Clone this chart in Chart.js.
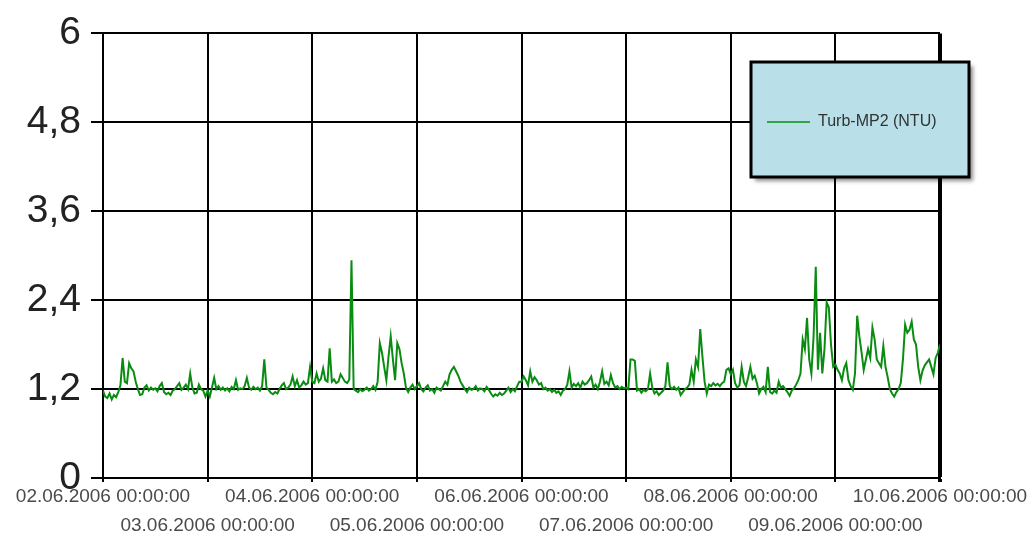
<!DOCTYPE html>
<html>
<head>
<meta charset="utf-8">
<title>Turb-MP2 (NTU)</title>
<script src="https://cdn.jsdelivr.net/npm/chart.js@4"></script>
<style>
  html, body { margin: 0; padding: 0; background: #fff; }
  #wrap { width: 1032px; height: 536px; position: relative; }
</style>
</head>
<body>
<div id="wrap"><canvas id="myChart"></canvas></div>
<script>
// Turbidity readings, one value every 30 minutes (48 per day)
const seriesLabel = 'Turb-MP2 (NTU)';
const startDay = 2; // 02.06.2006
const yTicks = [0, 1.2, 2.4, 3.6, 4.8, 6];

const day02 = [1.18,1.10,1.08,1.14,1.06,1.12,1.09,1.16, 1.25,1.62,1.30,1.28,1.55,1.48,1.44,1.30,
               1.20,1.12,1.13,1.22,1.25,1.18,1.22,1.19, 1.21,1.17,1.24,1.28,1.16,1.13,1.15,1.12,
               1.18,1.20,1.24,1.28,1.19,1.22,1.26,1.20, 1.41,1.22,1.14,1.15,1.26,1.20,1.18,1.10];
const day03 = [1.18,1.10,1.22,1.35,1.20,1.24,1.19,1.22, 1.18,1.21,1.17,1.23,1.20,1.32,1.19,1.21,
               1.20,1.24,1.35,1.22,1.19,1.23,1.20,1.22, 1.18,1.24,1.60,1.22,1.19,1.15,1.13,1.16,
               1.14,1.20,1.25,1.28,1.20,1.22,1.26,1.37, 1.24,1.32,1.22,1.25,1.30,1.26,1.28,1.50];
const day04 = [1.30,1.28,1.41,1.30,1.34,1.48,1.32,1.30, 1.75,1.30,1.33,1.28,1.30,1.40,1.35,1.30,
               1.28,1.33,2.94,1.20,1.18,1.16,1.20,1.17, 1.19,1.22,1.18,1.20,1.24,1.19,1.30,1.82,
               1.69,1.50,1.32,1.64,1.91,1.60,1.32,1.82, 1.74,1.55,1.41,1.22,1.16,1.22,1.26,1.20];
const day05 = [1.24,1.28,1.20,1.17,1.22,1.25,1.18,1.20, 1.15,1.22,1.20,1.18,1.24,1.30,1.26,1.40,
               1.46,1.50,1.44,1.38,1.30,1.25,1.20,1.16, 1.22,1.19,1.20,1.24,1.18,1.21,1.20,1.17,
               1.23,1.19,1.14,1.10,1.13,1.11,1.15,1.12, 1.14,1.18,1.22,1.16,1.20,1.17,1.24,1.30];
const day06 = [1.30,1.37,1.32,1.25,1.44,1.30,1.36,1.32, 1.26,1.28,1.20,1.22,1.18,1.20,1.16,1.19,
               1.15,1.17,1.12,1.18,1.20,1.26,1.44,1.22, 1.27,1.24,1.28,1.22,1.30,1.26,1.28,1.32,
               1.37,1.22,1.26,1.20,1.30,1.44,1.27,1.30, 1.25,1.39,1.28,1.22,1.24,1.20,1.23,1.21];
const day07 = [1.22,1.20,1.60,1.60,1.58,1.18,1.20,1.15, 1.19,1.17,1.20,1.41,1.22,1.14,1.17,1.12,
               1.15,1.18,1.24,1.56,1.24,1.20,1.23,1.19, 1.22,1.12,1.16,1.20,1.22,1.26,1.46,1.30,
               1.60,1.50,2.01,1.64,1.30,1.14,1.26,1.24, 1.28,1.25,1.27,1.24,1.28,1.30,1.46,1.48];
const day08 = [1.40,1.46,1.28,1.22,1.25,1.50,1.30,1.24, 1.36,1.50,1.34,1.38,1.28,1.14,1.20,1.23,
               1.16,1.50,1.16,1.14,1.18,1.15,1.30,1.22, 1.24,1.20,1.16,1.11,1.18,1.21,1.26,1.32,
               1.41,1.87,1.74,2.16,1.60,1.41,1.91,2.85, 1.46,1.96,1.41,1.74,2.37,2.30,1.80,1.50];
const day09 = [1.53,1.46,1.41,1.32,1.48,1.55,1.32,1.24, 1.19,1.41,2.19,1.91,1.70,1.46,1.60,1.74,
               1.62,2.03,1.87,1.60,1.55,1.50,1.78,1.50, 1.36,1.20,1.14,1.10,1.16,1.20,1.28,1.60,
               2.07,1.96,2.00,2.11,1.87,1.80,1.50,1.32, 1.45,1.52,1.56,1.60,1.50,1.40,1.62,1.69];
const day10 = [1.80]; // 10.06.2006 00:00:00

const turbValues = [].concat(day02, day03, day04, day05, day06, day07, day08, day09, day10);
const hours = turbValues.map((v, i) => i * 0.5);

function dayLabel(h) {
    var d = startDay + Math.round(h / 24);
    return (d < 10 ? '0' + d : d) + '.06.2006 00:00:00';
}

function commaNum(v) {
    return String(Math.round(v * 10) / 10).replace('.', ',');
}

// draws the framed light blue legend box inside the plot
const boxLegend = {
    id: 'boxLegend',
    afterDraw(chart) {
        const ctx = chart.ctx;
        const ds = chart.data.datasets[0];
        const x = 751, y = 62, w = 218, h = 115;
        ctx.save();
        ctx.shadowColor = 'rgba(0,0,0,0.45)';
        ctx.shadowBlur = 4;
        ctx.shadowOffsetX = 4;
        ctx.shadowOffsetY = 4;
        ctx.fillStyle = '#b9dfe9';
        ctx.fillRect(x, y, w, h);
        ctx.restore();

        ctx.save();
        ctx.lineWidth = 3;
        ctx.strokeStyle = '#000';
        ctx.strokeRect(x, y, w, h);

        ctx.strokeStyle = ds.borderColor;
        ctx.lineWidth = 1.5;
        ctx.beginPath();
        ctx.moveTo(767, 122);
        ctx.lineTo(810, 122);
        ctx.stroke();

        ctx.fillStyle = '#333';
        ctx.font = '16px "Liberation Sans", Arial, sans-serif';
        ctx.textBaseline = 'middle';
        ctx.fillText(ds.label, 818, 122);
        ctx.restore();
    }
};

var ctx = document.getElementById('myChart').getContext('2d');
window.lineChart = new Chart(ctx, {
    type: 'line',
    data: {
        labels: hours,
        datasets: [{
            label: seriesLabel,
            data: turbValues,
            borderColor: '#0a8c12',
            borderWidth: 2,
            pointRadius: 0,
            tension: 0,
            fill: false,
        }],
    },
    options: {
        responsive: true,
        maintainAspectRatio: false,
        animation: false,
        layout: { padding: { top: 32, right: 92, left: 0, bottom: 0 } },
        plugins: {
            legend: { display: false },
            tooltip: { enabled: false },
        },
        scales: {
            x: {
                type: 'linear',
                min: 0,
                max: 192,
                afterFit: function (axis) { axis.height = 58; },
                afterBuildTicks: function (axis) {
                    axis.ticks = [0, 24, 48, 72, 96, 120, 144, 168, 192].map(v => ({ value: v }));
                },
                border: { display: true, color: '#000', width: 2 },
                grid: {
                    color: '#000',
                    lineWidth: c => (c.index === 8 ? 4 : 2),
                    tickLength: 4,
                },
                ticks: {
                    autoSkip: false,
                    maxRotation: 0,
                    minRotation: 0,
                    padding: 0,
                    color: '#4a4a4a',
                    font: { family: '"Liberation Sans", Arial, sans-serif', size: 19, lineHeight: 1.53 },
                    callback: function (value, index) {
                        return index % 2 === 0 ? [dayLabel(value), ''] : ['', dayLabel(value)];
                    },
                },
            },
            y: {
                min: 0,
                max: 6,
                afterFit: function (axis) { axis.width = 103; },
                afterBuildTicks: function (axis) {
                    axis.ticks = yTicks.map(v => ({ value: v }));
                },
                border: { display: true, color: '#000', width: 2 },
                grid: { color: '#000', lineWidth: 2, tickLength: 12 },
                ticks: {
                    padding: 10,
                    color: '#222',
                    font: { family: '"Liberation Sans", Arial, sans-serif', size: 39 },
                    callback: function (value) { return commaNum(value); },
                },
            },
        },
    },
    plugins: [boxLegend],
});
</script>
</body>
</html>
